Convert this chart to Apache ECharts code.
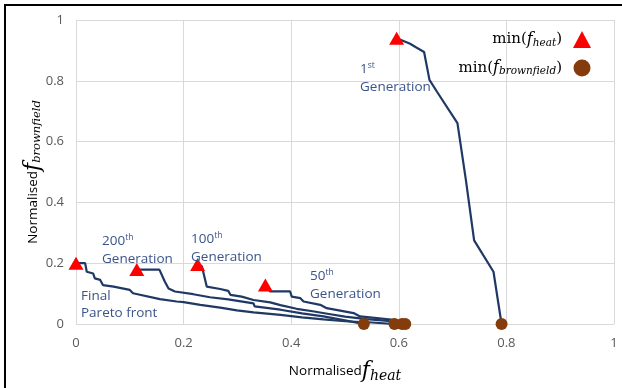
<!DOCTYPE html>
<html><head><meta charset="utf-8">
<script src="https://cdn.jsdelivr.net/npm/echarts@6/dist/echarts.min.js"></script>
<style>html,body{margin:0;padding:0;background:#fff}#c{width:622px;height:388px}</style>
</head><body><div id="c"></div><script>
const gen1 = [[0.596,0.94],[0.603,0.935],[0.621,0.922],[0.631,0.911],[0.647,0.895],[0.657,0.803],[0.671,0.764],[0.709,0.661],[0.725,0.47],[0.74,0.275],[0.776,0.172],[0.791,0]];
const gen50 = [[0.352,0.128],[0.361,0.107],[0.398,0.107],[0.401,0.09],[0.417,0.085],[0.423,0.074],[0.454,0.063],[0.466,0.052],[0.516,0.036],[0.528,0.025],[0.59,0.014],[0.612,0]];
const gen100 = [[0.226,0.196],[0.234,0.19],[0.243,0.123],[0.268,0.115],[0.283,0.109],[0.287,0.096],[0.308,0.09],[0.33,0.079],[0.361,0.071],[0.38,0.062],[0.41,0.05],[0.44,0.042],[0.47,0.033],[0.5,0.024],[0.54,0.016],[0.58,0.01],[0.606,0]];
const gen200 = [[0.113,0.179],[0.155,0.179],[0.165,0.14],[0.172,0.117],[0.184,0.107],[0.218,0.098],[0.249,0.088],[0.283,0.081],[0.33,0.068],[0.332,0.058],[0.38,0.047],[0.42,0.035],[0.46,0.025],[0.5,0.012],[0.535,0]];
const finalFront = [[0,0.2],[0.017,0.2],[0.02,0.172],[0.032,0.166],[0.035,0.15],[0.045,0.145],[0.05,0.128],[0.07,0.123],[0.1,0.112],[0.106,0.101],[0.156,0.082],[0.187,0.074],[0.2,0.072],[0.231,0.063],[0.268,0.054],[0.299,0.045],[0.33,0.038],[0.38,0.03],[0.42,0.022],[0.46,0.015],[0.5,0.009],[0.55,0.005],[0.592,0]];
const minHeat = [[0,0.2],[0.113,0.179],[0.226,0.196],[0.352,0.128],[0.596,0.94]];
const minBrown = [[0.535,0],[0.592,0],[0.606,0],[0.612,0],[0.791,0]];
const axisTicks = [0,0.2,0.4,0.6,0.8,1];

const lineColor = '#1F3864';
const annColor = '#3B5489';
const sans = 'Open Sans';
const serif = 'DejaVu Serif';

function lineSeries(name, data){
  return {name, type:'line', data, symbol:'none', lineStyle:{color:lineColor,width:2.2}, z:2, animation:false};
}
const ann = (x,y,first,sup) => ({
  type:'text', left:x, top:y, z:10,
  style:{
    text:`{n|${first}}{sup|${sup}}\n{n|Generation}`,
    rich:{ n:{fontFamily:sans,fontSize:13.5,fill:annColor,lineHeight:18}, sup:{fontFamily:sans,fontSize:8.5,fill:annColor,padding:[0,0,7,0]} }
  }
});
const chart = echarts.init(document.getElementById('c'));
chart.setOption({
  animation:false,
  backgroundColor:'#fff',
  grid:{left:76,right:8,top:20,bottom:62},
  xAxis:{type:'value',min:axisTicks[0],max:axisTicks[axisTicks.length-1],interval:0.2,
    axisLine:{show:false},axisTick:{show:false},
    splitLine:{show:true,lineStyle:{color:'#D9D9D9',width:1}},
    axisLabel:{color:'#595959',fontFamily:sans,fontSize:13,margin:13},
    name:'{a|Normalised}{f|f}{s|heat}',nameLocation:'middle',nameGap:36,nameMoveOverlap:false,
    nameTextStyle:{rich:{a:{fontFamily:sans,fontSize:13.5,color:'#000'},f:{fontFamily:serif,fontStyle:'italic',fontSize:22,color:'#000'},s:{fontFamily:serif,fontStyle:'italic',fontSize:14,color:'#000',padding:[9,0,0,0]}}}
  },
  yAxis:{type:'value',min:axisTicks[0],max:axisTicks[axisTicks.length-1],interval:0.2,
    axisLine:{show:false},axisTick:{show:false},
    splitLine:{show:true,lineStyle:{color:'#D9D9D9',width:1}},
    axisLabel:{color:'#595959',fontFamily:sans,fontSize:13,margin:12},
    name:'{a|Normalised}{f|f}{s|brownfield}',nameLocation:'middle',nameGap:32,nameRotate:90,nameMoveOverlap:false,
    nameTextStyle:{rich:{a:{fontFamily:sans,fontSize:13.5,color:'#000'},f:{fontFamily:serif,fontStyle:'italic',fontSize:22,color:'#000'},s:{fontFamily:serif,fontStyle:'italic',fontSize:11.5,color:'#000',padding:[9,0,0,0]}}}
  },
  legend:{orient:'vertical',right:26,top:26,align:'right',itemWidth:18,itemHeight:17,itemGap:11,
    data:[{name:'min(f_heat)',icon:'triangle'},{name:'min(f_brownfield)',icon:'circle'}],
    formatter:function(n){ return n==='min(f_heat)' ? '{n|min(}{f|f}{s|heat}{n|)}' : '{n|min(}{f|f}{s|brownfield}{n|)}'; },
    textStyle:{padding:[0,6,0,0],rich:{n:{fontFamily:serif,fontSize:15,color:'#000'},f:{fontFamily:serif,fontStyle:'italic',fontSize:16,color:'#000'},s:{fontFamily:serif,fontStyle:'italic',fontSize:10.5,color:'#000',padding:[7,0,0,0]}}}
  },
  series:[
    lineSeries('gen1',gen1), lineSeries('gen50',gen50), lineSeries('gen100',gen100), lineSeries('gen200',gen200), lineSeries('final',finalFront),
    {name:'min(f_heat)',type:'scatter',data:minHeat,symbol:'triangle',symbolSize:[15,13],itemStyle:{color:'#FF0000',opacity:1},z:5},
    {name:'min(f_brownfield)',type:'scatter',data:minBrown,symbol:'circle',symbolSize:12,itemStyle:{color:'#843C0C',opacity:1},z:5}
  ],
  graphic:[
    {type:'rect',shape:{x:5,y:5,width:700,height:500},style:{fill:'none',stroke:'#000',lineWidth:2},z:20},
    ann(360,61,'1','st'),
    ann(102,233,'200','th'),
    ann(191,231,'100','th'),
    ann(310,268,'50','th'),
    {type:'text',left:81,top:288,z:10,style:{text:'Final\nPareto front',fontFamily:sans,fontSize:13.5,fill:annColor,lineHeight:17}}
  ]
});
</script></body></html>
